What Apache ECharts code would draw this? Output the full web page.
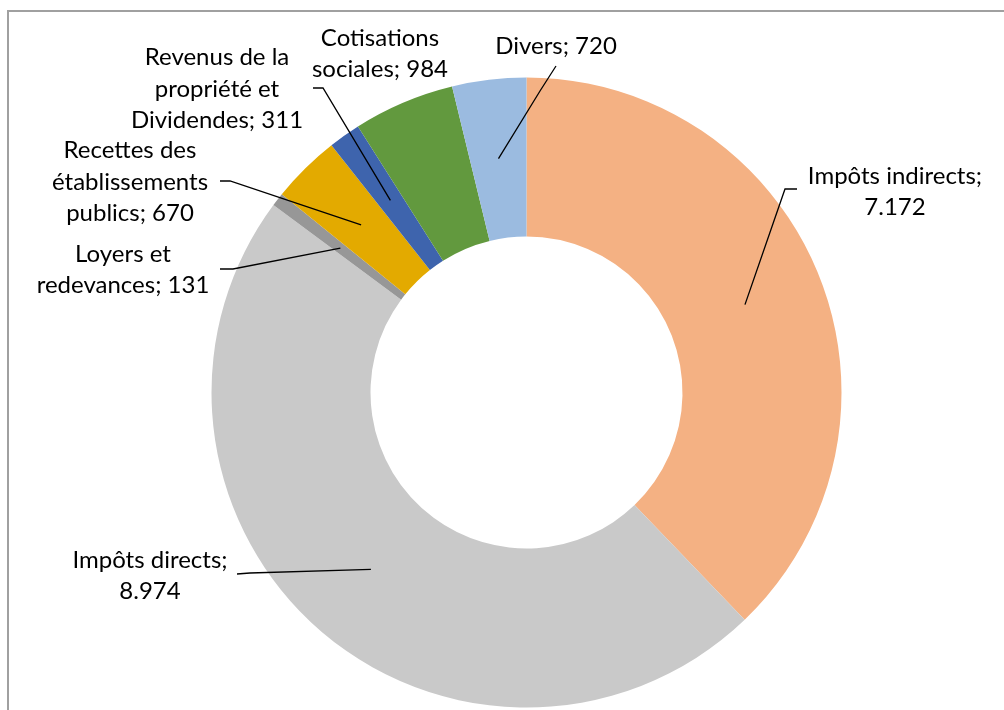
<!DOCTYPE html>
<html>
<head>
<meta charset="utf-8">
<script src="https://cdn.jsdelivr.net/npm/echarts@6/dist/echarts.min.js"></script>
<style>
  html, body { margin: 0; padding: 0; background: #fff; }
  #chart { width: 1004px; height: 710px; }
</style>
</head>
<body>
<div id="chart"></div>
<script>
// Données (sens horaire depuis midi)
const categories = ['Impôts indirects', 'Impôts directs', 'Loyers et redevances',
    'Recettes des établissements publics', 'Revenus de la propriété et Dividendes',
    'Cotisations sociales', 'Divers'];
const values = [7172, 8974, 131, 670, 311, 984, 720];
const colors = ['#F4B183', '#C9C9C9', '#979797', '#E3AA00', '#3E64AD', '#62993E', '#9BBBE0'];

// Texte des étiquettes avec retours à la ligne
const labelPrefix = ['Impôts indirects;\n', 'Impôts directs;\n', 'Loyers et\nredevances; ',
    'Recettes des\nétablissements\npublics; ', 'Revenus de la\npropriété et\nDividendes; ',
    'Cotisations\nsociales; ', 'Divers; '];

// Placement des étiquettes (centre du bloc) et bout des traits de rappel
const labelPos = [[895, 192], [150, 576], [123, 270], [130, 182], [217, 89], [380, 54], [556, 46]];
const lineEnds = [
    [[785, 189], [797, 189]],
    [[250, 573], [237, 574]],
    [[233, 269], [220, 269]],
    [[230, 181], [220, 181]],
    [[323, 88], [313, 88]],
    null,
    [[540, 91], [556, 66]]
];

const cx = 526.5, cy = 392.5, rIn = 156, rOut = 315;

function fmt(v) {
    return String(v).replace(/\B(?=(\d{3})+(?!\d))/g, '.');
}

// point d'ancrage : milieu de l'anneau, angle médian de la part
const total = values.reduce((a, b) => a + b, 0);
let acc = 0;
const anchors = values.map(v => {
    const mid = (acc + v / 2) / total * 2 * Math.PI;
    acc += v;
    const rm = (rIn + rOut) / 2;
    return [cx + rm * Math.sin(mid), cy - rm * Math.cos(mid)];
});

let chart = echarts.init(document.getElementById('chart'));
chart.setOption({
    animation: false,
    graphic: [{
        type: 'polyline',
        shape: { points: [[8, 710], [8, 11], [1004, 11]] },
        style: { stroke: '#A0A0A0', lineWidth: 2, fill: null }
    }],
    series: [
        // anneau
        {
            type: 'pie',
            z: 2,
            center: [cx, cy],
            radius: [rIn, rOut],
            startAngle: 90,
            clockwise: true,
            data: categories.map((name, i) => ({
                name: name,
                value: values[i],
                itemStyle: { color: colors[i] }
            })),
            label: { show: false },
            labelLine: { show: false }
        },
        // étiquettes + traits par-dessus l'anneau
        {
            type: 'pie',
            z: 3,
            silent: true,
            center: [cx, cy],
            radius: [rIn, rOut],
            startAngle: 90,
            clockwise: true,
            avoidLabelOverlap: false,
            data: categories.map((name, i) => ({
                name: name,
                value: values[i],
                itemStyle: { color: 'rgba(0,0,0,0)' },
                labelLine: { show: lineEnds[i] !== null }
            })),
            label: {
                show: true,
                position: 'outside',
                formatter: p => labelPrefix[p.dataIndex] + fmt(p.value),
                fontFamily: 'Lato, "Open Sans", sans-serif',
                fontSize: 24,
                lineHeight: 31.5,
                color: '#000',
                align: 'center'
            },
            labelLine: {
                show: true,
                lineStyle: { color: '#000', width: 1.3 }
            },
            labelLayout: function (params) {
                const i = params.dataIndex;
                const out = {
                    x: labelPos[i][0],
                    y: labelPos[i][1],
                    align: 'center',
                    verticalAlign: 'middle'
                };
                if (lineEnds[i]) {
                    out.labelLinePoints = [anchors[i], lineEnds[i][0], lineEnds[i][1]];
                }
                return out;
            }
        }
    ]
});
</script>
</body>
</html>
